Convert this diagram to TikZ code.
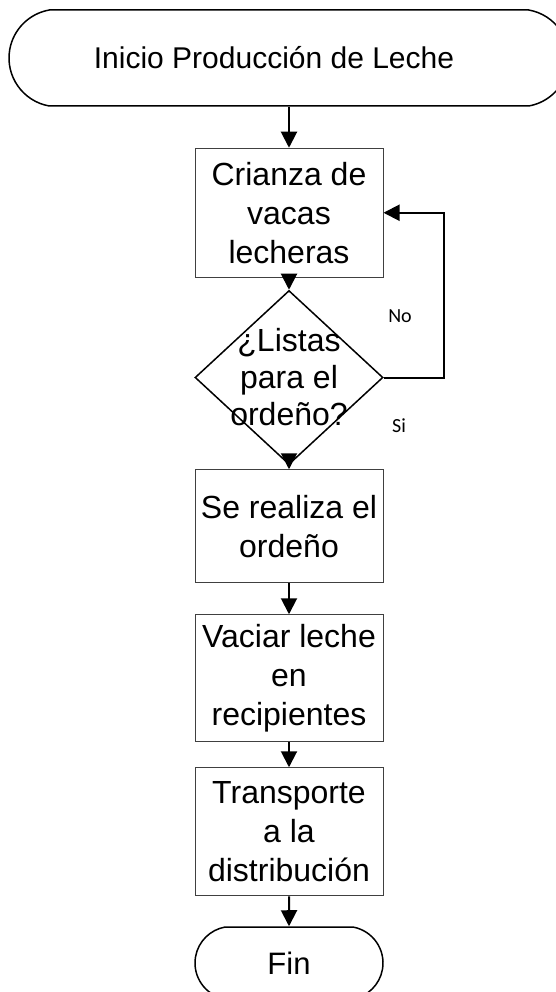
\documentclass[tikz,border=0pt]{standalone}
\usepackage{fontspec}
\setmainfont{Liberation Sans}
\newfontfamily\notefont{Carlito}
\usetikzlibrary{positioning, shapes.geometric, shapes.misc, arrows.meta}

\begin{document}
\begin{tikzpicture}[
			x=1pt, y=1pt,
			term/.style = {draw, line width=1.5pt, rounded rectangle, rounded rectangle arc length=160, inner sep=0pt, font=\fontsize{31}{38}\selectfont},
			box/.style = {draw=black!75, line width=1pt, rectangle, minimum width=188pt, inner sep=0pt, align=center, font=\fontsize{32}{39}\selectfont},
			decision/.style = {draw, line width=1.5pt, diamond, minimum width=188pt, minimum height=174pt, inner sep=0pt},
			note/.style = {font=\notefont\fontsize{20}{24}\selectfont},
			flow/.style = {line width=2pt, -{Triangle[length=16pt, width=16pt]}}
		]
		\useasboundingbox (0,0) rectangle (556,-992);
		\node[term, minimum width=560pt, minimum height=96pt] (start) at (289,-58) {};
		\node[font=\fontsize{30}{36}\selectfont] (starttext) at ([xshift=-15]start.center) {Inicio Producción de Leche};
		% Level 1.
		\node[box, minimum height=129pt, below=41pt of start] (crianza) {Crianza de\\vacas\\lecheras};
		\node[decision, below=12pt of crianza] (listas) {};
		\node[align=center, font=\fontsize{32}{37}\selectfont] (listastext) at (listas.center) {¿Listas\\para el\\ordeño?};
		\node[note] (no) at ([shift={(111,61)}]listas.center) {No};
		\node[note] (si) at ([shift={(110,-48)}]listas.center) {Si};
		% Level 2.
		\node[box, minimum height=113pt, below=4pt of listas] (ordeno) {Se realiza el\\ordeño};
		\node[box, minimum height=127pt, below=31pt of ordeno] (vaciar) {Vaciar leche\\en\\recipientes};
		\node[box, minimum height=128pt, below=25pt of vaciar] (transporte) {Transporte\\a la\\distribución};
		% End.
		\node[term, minimum width=188pt, minimum height=72pt, below=30pt of transporte] (fin) {Fin};

		\draw[flow] (start) to (crianza);
		\draw[flow] (crianza) to (listas);
		\draw[flow] (listas.east) -- ++(60,0) |- (crianza.east);
		\draw[flow] (listas) to (ordeno);
		\draw[flow] (ordeno) to (vaciar);
		\draw[flow] (vaciar) to (transporte);
		\draw[flow] (transporte) to (fin);
	\end{tikzpicture}
\end{document}
